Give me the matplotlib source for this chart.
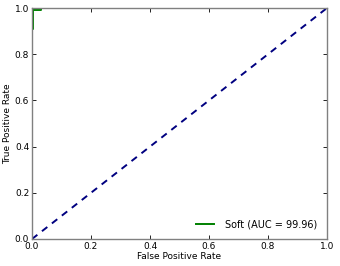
import matplotlib
matplotlib.use("Agg")
import matplotlib.pyplot as plt

fpr = [0.0, 0.0, 0.004, 0.004, 0.03, 0.03, 1.0]
tpr = [0.0, 0.91, 0.91, 0.99, 0.99, 1.0, 1.0]
diag = [0.0, 1.0]
label = "Soft (AUC = 99.96)"
ticks = [0.0, 0.2, 0.4, 0.6, 0.8, 1.0]

fig = plt.figure(figsize=(3.4, 2.66), dpi=100)
ax = fig.add_axes([32/340, 27/266, 295/340, 231/266])
ax.plot(fpr, tpr, color="green", lw=1.4, label=label)
ax.plot(diag, diag, color="navy", lw=1.4, ls="--", dashes=(3.5, 3))
ax.set_xlim(0, 1)
ax.set_ylim(0, 1)
ax.set_xticks(ticks)
ax.set_yticks(ticks)
ax.set_xticklabels([f"{t:.1f}" for t in ticks])
ax.set_yticklabels([f"{t:.1f}" for t in ticks])
ax.tick_params(direction="in", top=True, right=True, labelsize=6.5, length=3, width=0.6, pad=2)
for s in ax.spines.values():
    s.set_color("#808080")
    s.set_linewidth(1.0)
ax.set_xlabel("False Positive Rate", fontsize=6.5, labelpad=1)
ax.set_ylabel("True Positive Rate", fontsize=6.5, labelpad=2)
ax.legend(loc="lower right", frameon=False, fontsize=7, handlelength=1.9,
          handletextpad=1.1, borderaxespad=0.6)
fig.savefig("out.png", dpi=100)
